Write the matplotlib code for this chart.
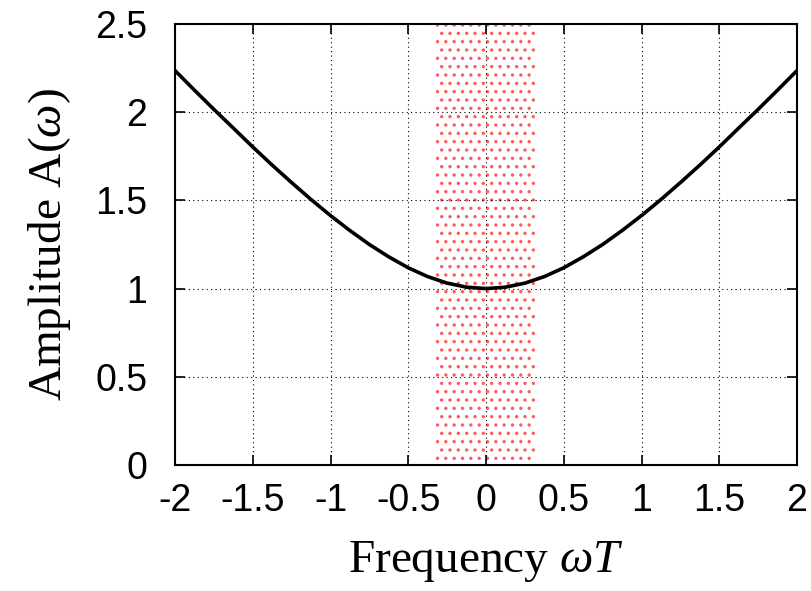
import numpy as np
import matplotlib.pyplot as plt

# curve values
omega_t = [-2.0, -1.875, -1.75, -1.625, -1.5, -1.375, -1.25, -1.125, -1.0,
           -0.875, -0.75, -0.625, -0.5, -0.375, -0.25, -0.125, 0.0,
           0.125, 0.25, 0.375, 0.5, 0.625, 0.75, 0.875, 1.0,
           1.125, 1.25, 1.375, 1.5, 1.625, 1.75, 1.875, 2.0]
amplitude = [2.236, 2.125, 2.016, 1.910, 1.803, 1.700, 1.601, 1.505, 1.414,
             1.329, 1.250, 1.180, 1.118, 1.068, 1.031, 1.008, 1.000,
             1.008, 1.031, 1.068, 1.118, 1.180, 1.250, 1.329, 1.414,
             1.505, 1.601, 1.700, 1.803, 1.910, 2.016, 2.125, 2.236]
band = [-0.32, 0.32]

xticks = [-2, -1.5, -1, -0.5, 0, 0.5, 1, 1.5, 2]
xtick_labels = ['-2', '-1.5', '-1', '-0.5', '0', '0.5', '1', '1.5', '2']
yticks = [0, 0.5, 1, 1.5, 2, 2.5]
ytick_labels = ['0', '0.5', '1', '1.5', '2', '2.5']

plt.rcParams['font.family'] = ['Liberation Sans', 'DejaVu Sans']
plt.rcParams['mathtext.fontset'] = 'custom'
plt.rcParams['mathtext.rm'] = 'Liberation Serif'
plt.rcParams['mathtext.it'] = 'Liberation Serif:italic'
plt.rcParams['hatch.linewidth'] = 1.2

fig = plt.figure(figsize=(8.11, 5.91), dpi=100)
ax = fig.add_axes([175 / 811, 1 - 465 / 591, 622 / 811, 441 / 591])

ax.fill_between(band, [0, 0], [2.5, 2.5], facecolor='none',
                edgecolor='#ff5a5a', hatch='..', linewidth=0, zorder=1)
ax.plot(omega_t, amplitude, color='black', linewidth=2.6, zorder=3)

ax.set_xlim(-2, 2)
ax.set_ylim(0, 2.5)
ax.set_xticks(xticks)
ax.set_xticklabels(xtick_labels)
ax.set_yticks(yticks)
ax.set_yticklabels(ytick_labels)
ax.tick_params(direction='in', length=7, width=1.2, labelsize=27,
               top=True, right=True)
ax.tick_params(axis='x', pad=13)
ax.tick_params(axis='y', pad=20)
ax.grid(True, color='black', linestyle=(0, (1, 3)), linewidth=0.8)
for s in ax.spines.values():
    s.set_linewidth(1.5)

ax.set_xlabel(r'Frequency $\omega T$', fontsize=34, family='Liberation Serif',
              labelpad=14)
ax.set_ylabel(r'Amplitude A($\omega$)', fontsize=34,
              family='Liberation Serif', labelpad=16)

fig.savefig('out.png', dpi=100)
